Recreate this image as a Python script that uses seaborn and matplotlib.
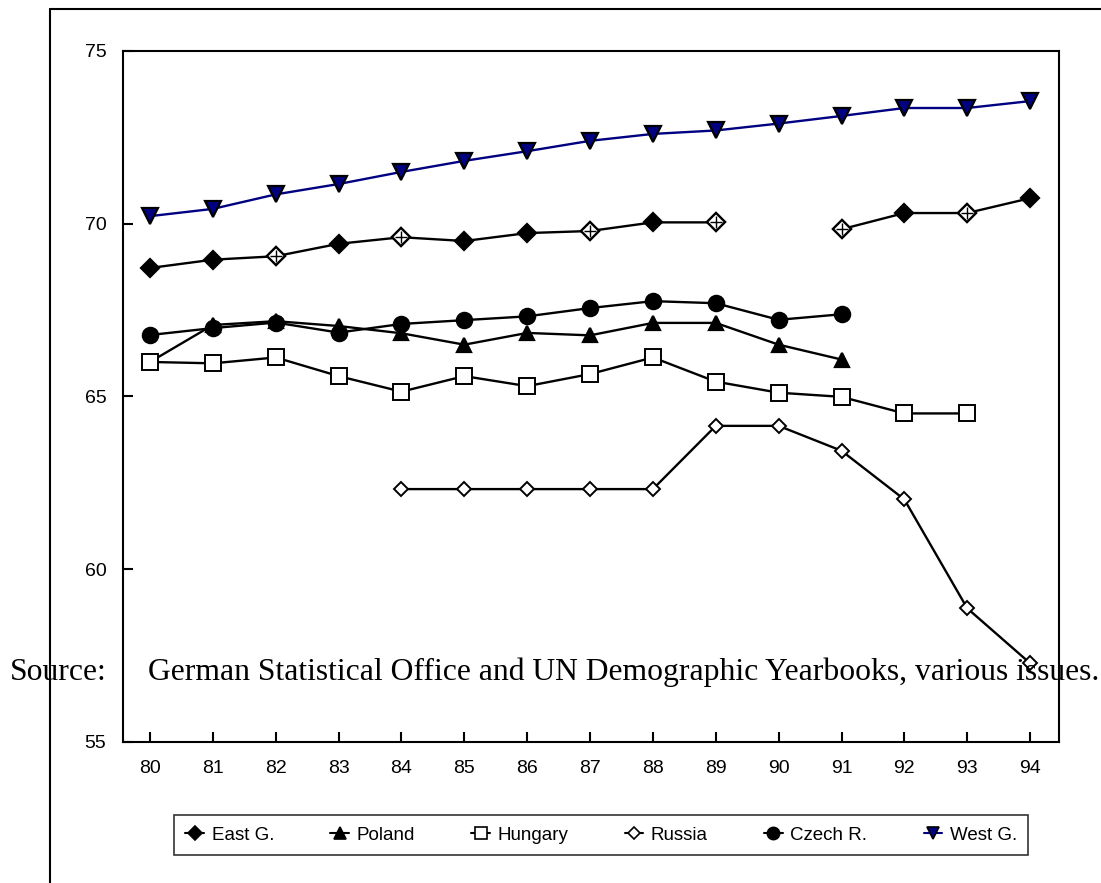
import numpy as np
import pandas as pd
import matplotlib.pyplot as plt
import seaborn as sns
from matplotlib.lines import Line2D

YEARS = list(range(80, 95))

EAST_G  = [68.72, 68.96, 69.06, 69.42, 69.61, 69.50, 69.73, 69.79, 70.04, 70.04,
           np.nan, 69.84, 70.31, 70.31, 70.74]
POLAND  = [66.00, 67.07, 67.18, 67.04, 66.83, 66.50, 66.84, 66.77, 67.13, 67.13,
           66.50, 66.07, np.nan, np.nan, np.nan]
HUNGARY = [66.00, 65.96, 66.13, 65.59, 65.14, 65.59, 65.30, 65.65, 66.13, 65.43,
           65.11, 64.99, 64.51, 64.51, np.nan]
RUSSIA  = [np.nan, np.nan, np.nan, np.nan, 62.32, 62.32, 62.32, 62.32, 62.32, 64.15,
           64.15, 63.43, 62.02, 58.87, 57.28]
CZECH   = [66.78, 66.98, 67.14, 66.85, 67.10, 67.21, 67.32, 67.56, 67.76, 67.70,
           67.22, 67.38, np.nan, np.nan, np.nan]
WEST_G  = [70.22, 70.43, 70.85, 71.15, 71.50, 71.82, 72.10, 72.40, 72.60, 72.70,
           72.90, 73.12, 73.35, 73.35, 73.55]

# East G. points that the original draws with an open, crossed diamond
EAST_OPEN_YEARS = [82, 84, 87, 89, 91, 93]

SERIES = ["East G.", "Poland", "Hungary", "Russia", "Czech R.", "West G."]
VALUES = [EAST_G, POLAND, HUNGARY, RUSSIA, CZECH, WEST_G]

STYLE = {
    "East G.":  dict(marker="D", ms=9,  mfc="black", color="black", mew=1.6),
    "Poland":   dict(marker="^", ms=10, mfc="black", color="black", mew=1.6),
    "Hungary":  dict(marker="s", ms=11, mfc="white", color="black", mew=1.4),
    "Russia":   dict(marker="D", ms=7.5, mfc="white", color="black", mew=1.4),
    "Czech R.": dict(marker="o", ms=11, mfc="black", color="black", mew=1.6),
    "West G.":  dict(marker="v", ms=11, mfc="#000080", color="#000080", mew=1.6),
}

SOURCE_LABEL = "Source:"
SOURCE_TEXT = "German Statistical Office and UN Demographic Yearbooks, various issues."

rows = []
for name, vals in zip(SERIES, VALUES):
    seg = 0
    for yr, v in zip(YEARS, vals):
        if np.isnan(v):
            seg += 1
            continue
        rows.append({"series": name, "year": yr, "value": v, "segment": seg})
df = pd.DataFrame(rows)

sns.set_style("white")
plt.rcParams["font.family"] = ["Liberation Sans", "DejaVu Sans"]
plt.rcParams["text.color"] = "black"

fig = plt.figure(figsize=(11.01, 8.83), dpi=100)
ax = fig.add_axes([123 / 1101, 1 - 742 / 883, (1059 - 123) / 1101, (742 - 51) / 883])

for name in SERIES:
    st = STYLE[name]
    sub = df[df["series"] == name]
    sns.lineplot(
        data=sub, x="year", y="value", units="segment", estimator=None,
        ax=ax, color=st["color"], lw=1.7, marker=st["marker"], markersize=st["ms"],
        markerfacecolor=st["mfc"], markeredgecolor="black", markeredgewidth=st["mew"],
        legend=False, zorder=3,
    )

# open crossed diamonds on some East G. points
east = df[(df["series"] == "East G.") & (df["year"].isin(EAST_OPEN_YEARS))]
ax.plot(east["year"], east["value"], ls="none", marker="D", ms=9,
        mfc="white", mec="black", mew=1.6, zorder=4)
ax.plot(east["year"], east["value"], ls="none", marker="+", ms=9,
        mec="black", mew=1.0, zorder=5)

ax.set_xlim(79.57, 94.46)
ax.set_ylim(55, 75)
ax.set_xticks(YEARS)
ax.set_xticklabels([str(y) for y in YEARS])
ax.set_yticks([55, 60, 65, 70, 75])
ax.tick_params(axis="both", direction="in", length=7.5, width=1.5,
               labelsize=14, colors="black",
               bottom=True, left=True, top=False, right=False)
ax.tick_params(axis="x", pad=13)
ax.tick_params(axis="y", pad=12)
ax.set_xlabel("")
ax.set_ylabel("")
for sp in ax.spines.values():
    sp.set_visible(True)
    sp.set_color("black")
    sp.set_linewidth(1.5)

# outer chart frame
fig.add_artist(Line2D([50 / 1101, 50 / 1101], [0, 1 - 9 / 883], color="black", lw=1.5))
fig.add_artist(Line2D([50 / 1101, 1], [1 - 9 / 883, 1 - 9 / 883], color="black", lw=1.5))

# legend
handles = []
for name in SERIES:
    st = STYLE[name]
    handles.append(Line2D([], [], color=st["color"], lw=1.5, marker=st["marker"],
                          ms=st["ms"] * 0.8, mfc=st["mfc"], mec="black", mew=1.2))
leg = fig.legend(handles, SERIES, loc="center", ncol=6,
                 bbox_to_anchor=(0.546, 1 - 835 / 883), frameon=True,
                 fontsize=13.5, handlelength=1.0, handletextpad=0.4,
                 columnspacing=3.0, borderpad=0.6, fancybox=False)
leg.get_frame().set_edgecolor("black")
leg.get_frame().set_linewidth(1.2)
for t in leg.get_texts():
    t.set_color("black")

# source note, overlapping the chart as in the original
ty = 1 - 672 / 883
fig.text(10 / 1101, ty, SOURCE_LABEL, fontsize=22.8, va="center", color="black",
         family=["Liberation Serif", "DejaVu Serif"])
fig.text(148 / 1101, ty, SOURCE_TEXT, fontsize=22.8, va="center", color="black",
         family=["Liberation Serif", "DejaVu Serif"])

fig.savefig("out.png", dpi=100)
